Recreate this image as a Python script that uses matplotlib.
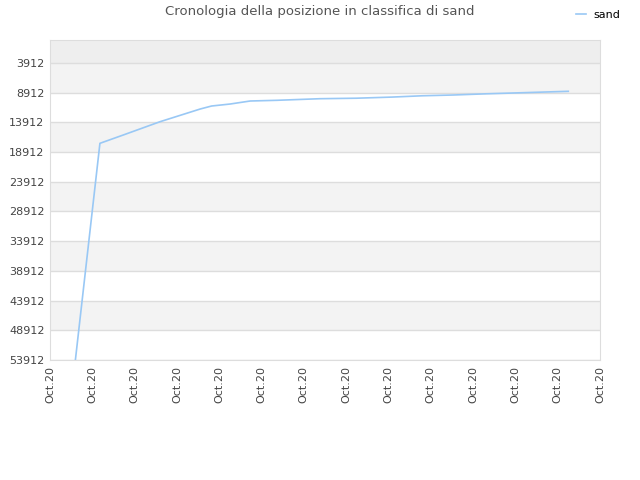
"""
Cronologia della posizione in classifica di sand
"""
import matplotlib
matplotlib.use("Agg")
import matplotlib.pyplot as plt

# ranking history (x in tick units, y = position)
days = [0.60, 1.18, 1.73, 2.60, 3.55, 3.82, 4.26, 4.73, 5.36, 6.38,
        7.24, 8.08, 8.80, 9.53, 10.31, 11.10, 11.87, 12.25]
rank = [53912, 17434, 16037, 13797, 11658, 11153, 10816, 10311, 10193, 9924,
        9840, 9650, 9430, 9300, 9100, 8930, 8760, 8678]

y_ticks = [3912, 8912, 13912, 18912, 23912, 28912, 33912,
           38912, 43912, 48912, 53912]
x_labels = ["Oct.20"] * 14

fig = plt.figure(figsize=(6.4, 4.8), dpi=100)
ax = fig.add_axes([50 / 640, 120 / 480, 550 / 640, 320 / 480])

y_top = 40
y_bottom = 53912
ax.set_xlim(0, len(x_labels) - 1)
ax.set_ylim(y_bottom, y_top)

# alternating bands
ax.axhspan(y_top, y_ticks[0], color="#eeeeee", zorder=0, lw=0)
for i in range(0, len(y_ticks) - 1, 2):
    ax.axhspan(y_ticks[i], y_ticks[i + 1], color="#f3f3f3", zorder=0, lw=0)
for t in y_ticks:
    ax.axhline(t, color="#dddddd", linewidth=1, zorder=1)

ax.plot(days, rank, color="#99c8f5", linewidth=1.2, zorder=3, label="sand")

ax.set_yticks(y_ticks)
ax.set_yticklabels([str(t) for t in y_ticks])
ax.set_xticks(range(len(x_labels)))
ax.set_xticklabels(x_labels, rotation=90)
ax.tick_params(axis="both", colors="#444444", labelsize=8, length=0, pad=4)

for s in ax.spines.values():
    s.set_color("#dddddd")

fig.text(0.5, 1 - 12 / 480, "Cronologia della posizione in classifica di sand",
         ha="center", va="center", fontsize=9.5, color="#555555")
fig.legend(loc="upper right", bbox_to_anchor=(0.985, 1.0), frameon=False,
           fontsize=8, handlelength=0.9, handletextpad=0.7)

fig.savefig("out.png", dpi=100)
